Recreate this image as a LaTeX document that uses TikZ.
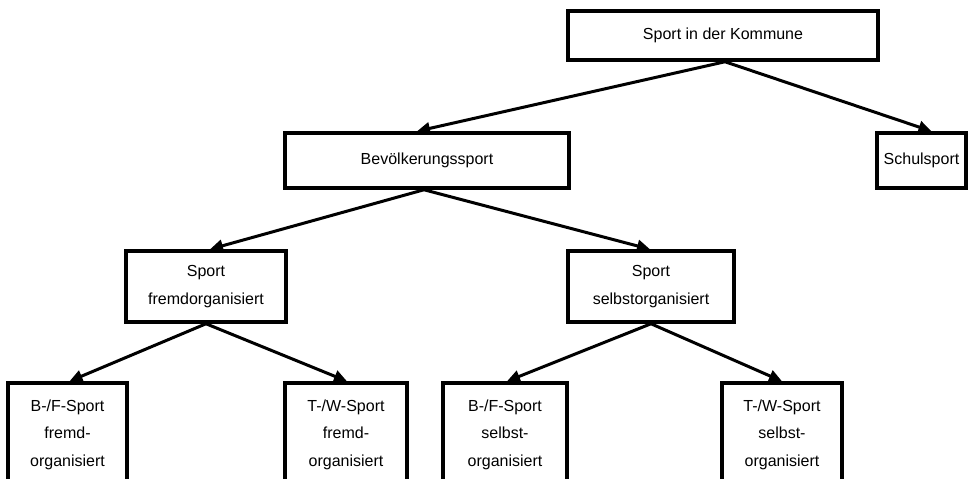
\documentclass[tikz,border=0pt]{standalone}
\usepackage{fontspec}
\setmainfont{Liberation Sans}
\usetikzlibrary{arrows.meta}
\begin{document}
\begin{tikzpicture}[x=1pt,y=-1pt,
  box/.style={draw, line width=3.5pt, inner sep=0pt, align=center,
    font=\fontsize{16}{27.5}\selectfont},
  arr/.style={line width=3pt, -{Triangle[length=13pt,width=12pt]}}]
\useasboundingbox (0,0) rectangle (969,479);
\clip (0,0) rectangle (969,479);
\fill[white] (0,0) rectangle (969,479);
% level 1
\node[box, minimum width=310pt, minimum height=49pt] (top) at (723,35.5) {Sport in der Kommune};
% level 2
\node[box, minimum width=284pt, minimum height=55pt] (bev) at (427,160.5) {Bevölkerungssport};
\node[box, minimum width=89pt, minimum height=55pt] (schul) at (921.5,160.5) {Schulsport};
% level 3
\node[box, minimum width=160pt, minimum height=71pt] (sf) at (206,286.5) {Sport\\fremdorganisiert};
\node[box, minimum width=166pt, minimum height=71pt] (ss) at (651,286.5) {Sport\\selbstorganisiert};
% level 4
\node[box, minimum width=119pt, minimum height=103pt] (bf1) at (67.5,434.5) {B-/F-Sport\\fremd-\\organisiert};
\node[box, minimum width=122pt, minimum height=103pt] (tw1) at (346,434.5) {T-/W-Sport\\fremd-\\organisiert};
\node[box, minimum width=124pt, minimum height=103pt] (bf2) at (505,434.5) {B-/F-Sport\\selbst-\\organisiert};
\node[box, minimum width=120pt, minimum height=103pt] (tw2) at (782,434.5) {T-/W-Sport\\selbst-\\organisiert};
% connectors
\draw[arr] ([xshift=2pt]top.south) -- ([xshift=-10pt]bev.north);
\draw[arr] ([xshift=2pt]top.south) -- ([xshift=10pt]schul.north);
\draw[arr] ([xshift=-3pt]bev.south) -- ([xshift=4pt]sf.north);
\draw[arr] ([xshift=-3pt]bev.south) -- ([xshift=-1pt]ss.north);
\draw[arr] (sf.south) -- ([xshift=2pt]bf1.north);
\draw[arr] (sf.south) -- ([xshift=1pt]tw1.north);
\draw[arr] (ss.south) -- ([xshift=2pt]bf2.north);
\draw[arr] (ss.south) -- (tw2.north);
\end{tikzpicture}
\end{document}
